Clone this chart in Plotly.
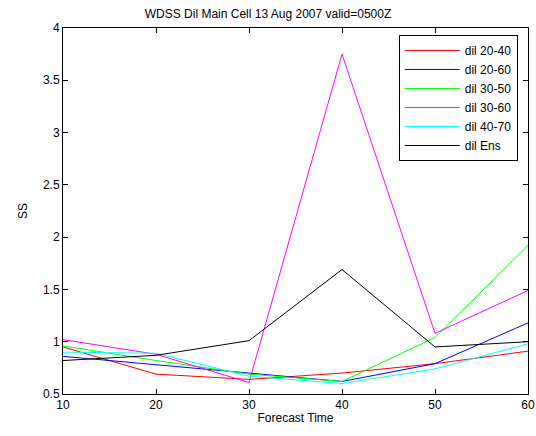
import plotly.graph_objects as go

forecast_time = [10, 20, 30, 40, 50, 60]
dil_20_40 = [0.95, 0.69, 0.64, 0.70, 0.79, 0.91]
dil_20_60 = [0.86, 0.78, 0.70, 0.62, 0.79, 1.18]
dil_30_50 = [0.96, 0.82, 0.69, 0.62, 1.04, 1.92]
dil_30_60 = [1.02, 0.88, 0.61, 3.75, 1.08, 1.49]
dil_40_70 = [0.90, 0.89, 0.67, 0.60, 0.74, 0.98]
dil_ens = [0.82, 0.87, 1.01, 1.69, 0.95, 1.00]

series = [
    ("dil 20-40", dil_20_40, "#ff0000"),
    ("dil 20-60", dil_20_60, "#0000ff"),
    ("dil 30-50", dil_30_50, "#00ff00"),
    ("dil 30-60", dil_30_60, "#ff00ff"),
    ("dil 40-70", dil_40_70, "#00ffff"),
    ("dil Ens", dil_ens, "#000000"),
]

fig = go.Figure()
for name, vals, color in series:
    fig.add_trace(go.Scatter(x=forecast_time, y=vals, mode="lines", name=name,
                             line=dict(color=color, width=1)))

axis_common = dict(showline=True, linecolor="black", linewidth=1, mirror="ticks",
                   ticks="inside", ticklen=5, tickcolor="black", showgrid=False,
                   zeroline=False, automargin=False,
                   tickfont=dict(size=12, color="black"))

fig.update_layout(
    width=536, height=436,
    paper_bgcolor="white", plot_bgcolor="white",
    font=dict(family="Liberation Sans, Arial, sans-serif", size=12, color="black"),
    margin=dict(l=63, r=8, t=28, b=42),
    title=dict(text="WDSS Dil Main Cell 13 Aug 2007 valid=0500Z", x=0.5, xanchor="center",
               y=1 - 14 / 436, yanchor="middle", font=dict(size=12)),
    xaxis=dict(range=[10, 60], tickvals=[10, 20, 30, 40, 50, 60],
               title=dict(text="Forecast Time", standoff=2, font=dict(size=12)), **axis_common),
    yaxis=dict(range=[0.5, 4], tickvals=[0.5, 1, 1.5, 2, 2.5, 3, 3.5, 4],
               ticktext=["0.5", "1", "1.5", "2", "2.5", "3", "3.5", "4"],
               title=dict(text="SS", standoff=12, font=dict(size=12)), **axis_common),
    legend=dict(x=0.978, xanchor="right", y=0.981, yanchor="top",
                bordercolor="black", borderwidth=1, bgcolor="white",
                font=dict(size=12), tracegroupgap=0, itemwidth=55),
    showlegend=True,
)

fig.write_html("out.html", config={"displayModeBar": False},
               post_script="document.body.style.margin='0';document.body.style.overflow='hidden';")
